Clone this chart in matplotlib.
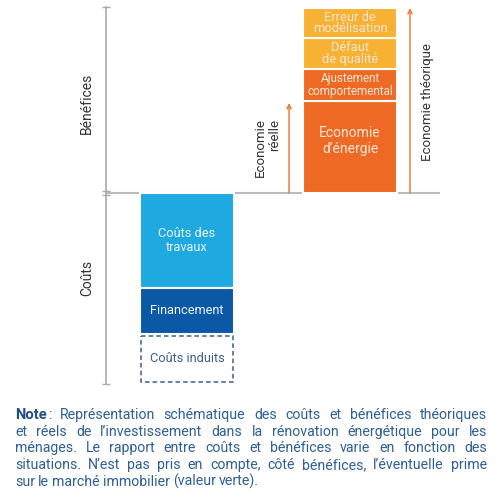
import matplotlib
matplotlib.use("Agg")
import matplotlib.pyplot as plt

plt.rcParams['font.family'] = ['Roboto', 'DejaVu Sans']

# stacked segments (arbitrary units, schematic)
cost_labels = ["Coûts des\ntravaux", "Financement", "Coûts induits"]
cost_values = [95, 46, 48]
benefit_labels = ["Economie\nd’énergie", "Ajustement\ncomportemental", "Défaut\nde qualité", "Erreur de\nmodélisation"]
benefit_values = [92, 32, 31, 30]
real_saving = 90
theoretical_saving = sum(benefit_values)

cost_colors = ["#1ea9e1", "#0b58a6", "white"]
benefit_colors = ["#ee6a24", "#ee6a24", "#f7b234", "#f7b234"]
benefit_fs = [10, 8.5, 9.3, 9.3]
benefit_ls = [1.25, 1.0, 0.9, 0.88]
benefit_dy = [6, 0, 0, 0]

note_lines = [
    "Représentation schématique des coûts et bénéfices théoriques",
    "et réels de l’investissement dans la rénovation énergétique pour les",
    "ménages. Le rapport entre coûts et bénéfices varie en fonction des",
    "situations. N’est pas pris en compte, côté bénéfices, l’éventuelle prime",
    "sur le marché immobilier (valeur verte).",
]

W, H = 499, 495
fig = plt.figure(figsize=(W / 100, H / 100), dpi=100)
ax = fig.add_axes([106 / W, (H - 384) / H, 334 / W, 377 / H])
ax.set_xlim(-0.497, 1.552)
ax.set_ylim(-191, 186)

bw = 0.577
# costs (downwards)
bottom = 0
for lab, v, c in zip(cost_labels, cost_values, cost_colors):
    if c == "white":
        ax.bar(0, -v + 2, bottom=bottom - 2, width=bw - 0.01, color="white",
               edgecolor="#3d5f8c", linestyle=(0, (3, 2)), linewidth=1.1)
        tc = "#3d5f8c"
    else:
        ax.bar(0, -v, bottom=bottom, width=bw, color=c, edgecolor="white", linewidth=1.5)
        tc = "#eaf6fd"
    ax.text(0, bottom - v / 2, lab, ha="center", va="center", color=tc,
            fontsize=9.2, linespacing=1.15)
    bottom -= v

# benefits (upwards)
bottom = 0
for lab, v, c, f, ls, dy in zip(benefit_labels, benefit_values, benefit_colors,
                                benefit_fs, benefit_ls, benefit_dy):
    ax.bar(1, v, bottom=bottom, width=bw, color=c, edgecolor="white", linewidth=1.5)
    ax.text(1, bottom + v / 2 + dy, lab, ha="center", va="center", color="#fde6d6",
            fontsize=f, linespacing=ls)
    bottom += v

# arrows
arrow_kw = dict(arrowstyle="->,head_length=0.3,head_width=0.15", color="#ef7a3c", lw=1.1,
                shrinkA=0, shrinkB=0)
ax.annotate("", xy=(0.626, real_saving), xytext=(0.626, 0), arrowprops=arrow_kw)
ax.annotate("", xy=(1.368, theoretical_saving), xytext=(1.368, 0), arrowprops=arrow_kw)
ax.text(0.495, 45, "Economie\nréelle", rotation=90, ha="center", va="center",
        multialignment="right", fontsize=9.5, color="#333333", linespacing=1.15)
ax.text(1.475, 91, "Economie théorique", rotation=90, ha="center", va="center",
        fontsize=9.5, color="#333333")

# axis
for s in ["top", "right", "bottom"]:
    ax.spines[s].set_visible(False)
ax.spines["left"].set_color("#aaaaaa")
ax.spines["left"].set_linewidth(1.2)
ax.axhline(0, color="#bbbbbb", lw=1.5, zorder=0)
ax.set_xticks([])
ax.set_yticks([186, 2, -2, -191])
ax.set_yticklabels([])
ax.tick_params(axis="y", direction="inout", length=6, color="#aaaaaa", width=1)
ax.text(-0.612, 90, "Bénéfices", rotation=90, ha="center", va="center",
        fontsize=10, color="#333333")
ax.text(-0.612, -85, "Coûts", rotation=90, ha="center", va="center",
        fontsize=10, color="#333333")

# justified note
note_color = "#2f5f94"
fs = 10.2
renderer = fig.canvas.get_renderer()
x0, x1 = 15, 487
baselines = [419, 436, 452, 469, 486]

def place_line(words, y, first=False, last=False):
    items = []
    if first:
        t1 = fig.text(0, 1 - y / H, "Note", fontsize=fs + 0.4, color="#1f4f8a", weight="bold", va="baseline")
        t2 = fig.text(0, 1 - y / H, ":", fontsize=fs, color=note_color, va="baseline")
        w1 = t1.get_window_extent(renderer).width
        w2 = t2.get_window_extent(renderer).width
        items.append(([(t1, 0), (t2, w1 + 1)], w1 + w2 + 1))
    for w in words:
        t = fig.text(0, 1 - y / H, w, fontsize=fs, color=note_color, va="baseline")
        items.append(([(t, 0)], t.get_window_extent(renderer).width))
    total = sum(it[1] for it in items)
    if last:
        gap = fs * 0.3
    else:
        gap = (x1 - x0 - total) / (len(items) - 1)
    x = x0
    for parts, width in items:
        for t, off in parts:
            t.set_x((x + off) / W)
        x += width + gap

for i, line in enumerate(note_lines):
    place_line(line.split(" "), baselines[i], first=(i == 0), last=(i == len(note_lines) - 1))

fig.savefig("out.png", dpi=100)
